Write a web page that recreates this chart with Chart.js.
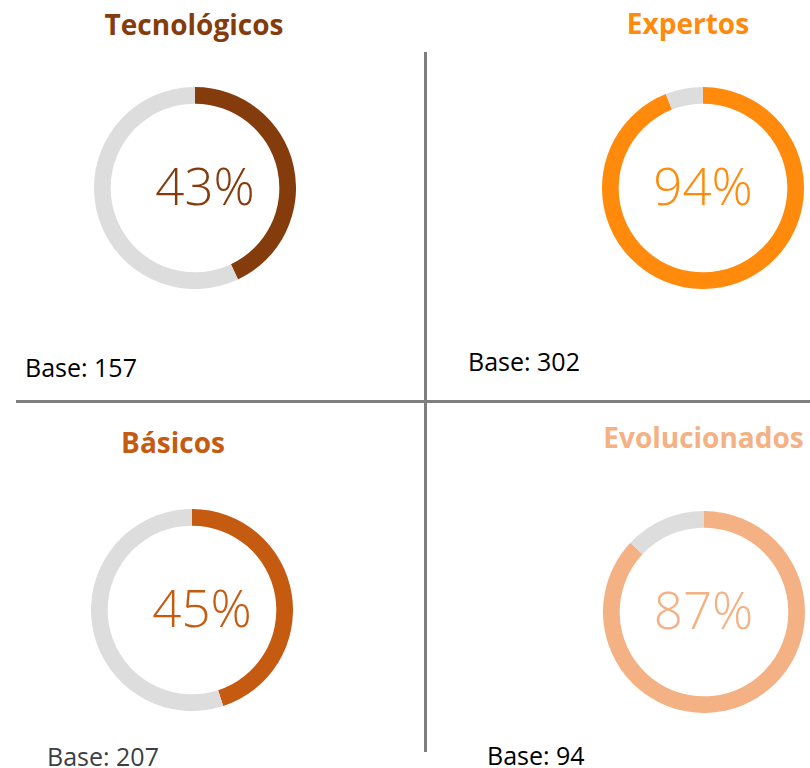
<!DOCTYPE html>
<html><head><meta charset="utf-8">
<script src="https://cdn.jsdelivr.net/npm/chart.js@4/dist/chart.umd.min.js"></script>
<style>
html,body{margin:0;padding:0;background:#fff;}
body{width:810px;height:768px;position:relative;overflow:hidden;font-family:'Open Sans','Noto Sans',sans-serif;}
.t{position:absolute;white-space:nowrap;line-height:1;}
.title{font-weight:700;font-size:28px;transform:translateX(-50%);}
.pct{font-weight:350;font-size:51px;transform:translate(-50%,-50%);}
.base{font-size:25px;}
canvas{position:absolute;}
.ln{position:absolute;background:#7F7F7F;}
</style></head><body>
<div class="ln" style="left:424px;top:52px;width:3px;height:700px;"></div>
<div class="ln" style="left:16px;top:400px;width:794px;height:3px;"></div>
<script>
// ---- data ----
const categories = ['Tecnológicos', 'Expertos', 'Básicos', 'Evolucionados'];
const percentages = [43, 94, 45, 87];
const remainders = [57, 6, 55, 13];
const bases = [157, 302, 207, 94];

// ---- styles / layout ----
const colors = ['#843C0C', '#FF8A0B', '#C55A11', '#F4B183'];
const restColor = '#DDDDDD';
const baseColors = ['#000000', '#000000', '#3B3F46', '#000000'];
const ringCenters = [[195, 188], [703, 188], [192, 609.5], [703.5, 611.5]];
const titlePos = [[194, 10], [688, 9], [173, 428], [703.5, 423]];
const pctPos = [[205, 185], [703, 185], [202, 607], [703.5, 608.5]];
const basePos = [[25, 355], [468, 349], [47, 744], [487, 743]];
const R = 101;

categories.forEach((cat, i) => {
  const cv = document.createElement('canvas');
  cv.width = 2 * R; cv.height = 2 * R;
  cv.style.left = (ringCenters[i][0] - R) + 'px';
  cv.style.top = (ringCenters[i][1] - R) + 'px';
  cv.style.width = 2 * R + 'px'; cv.style.height = 2 * R + 'px';
  document.body.appendChild(cv);
  new Chart(cv, {
    type: 'doughnut',
    data: {
      labels: [cat, 'Resto'],
      datasets: [{
        data: [percentages[i], remainders[i]],
        backgroundColor: [colors[i], restColor],
        borderWidth: 0
      }]
    },
    options: {
      responsive: false,
      maintainAspectRatio: false,
      animation: false,
      cutout: '83.5%',
      rotation: 0,
      layout: { padding: 0 },
      plugins: { legend: { display: false }, tooltip: { enabled: false }, title: { display: false } }
    }
  });

  const tt = document.createElement('div');
  tt.className = 't title';
  tt.textContent = cat;
  tt.style.color = colors[i];
  tt.style.left = titlePos[i][0] + 'px';
  tt.style.top = titlePos[i][1] + 'px';
  document.body.appendChild(tt);

  const pc = document.createElement('div');
  pc.className = 't pct';
  pc.textContent = percentages[i] + '%';
  pc.style.color = colors[i];
  pc.style.left = pctPos[i][0] + 'px';
  pc.style.top = pctPos[i][1] + 'px';
  document.body.appendChild(pc);

  const bs = document.createElement('div');
  bs.className = 't base';
  bs.textContent = 'Base: ' + bases[i];
  bs.style.color = baseColors[i];
  bs.style.left = basePos[i][0] + 'px';
  bs.style.top = basePos[i][1] + 'px';
  document.body.appendChild(bs);
});
</script>
</body></html>
